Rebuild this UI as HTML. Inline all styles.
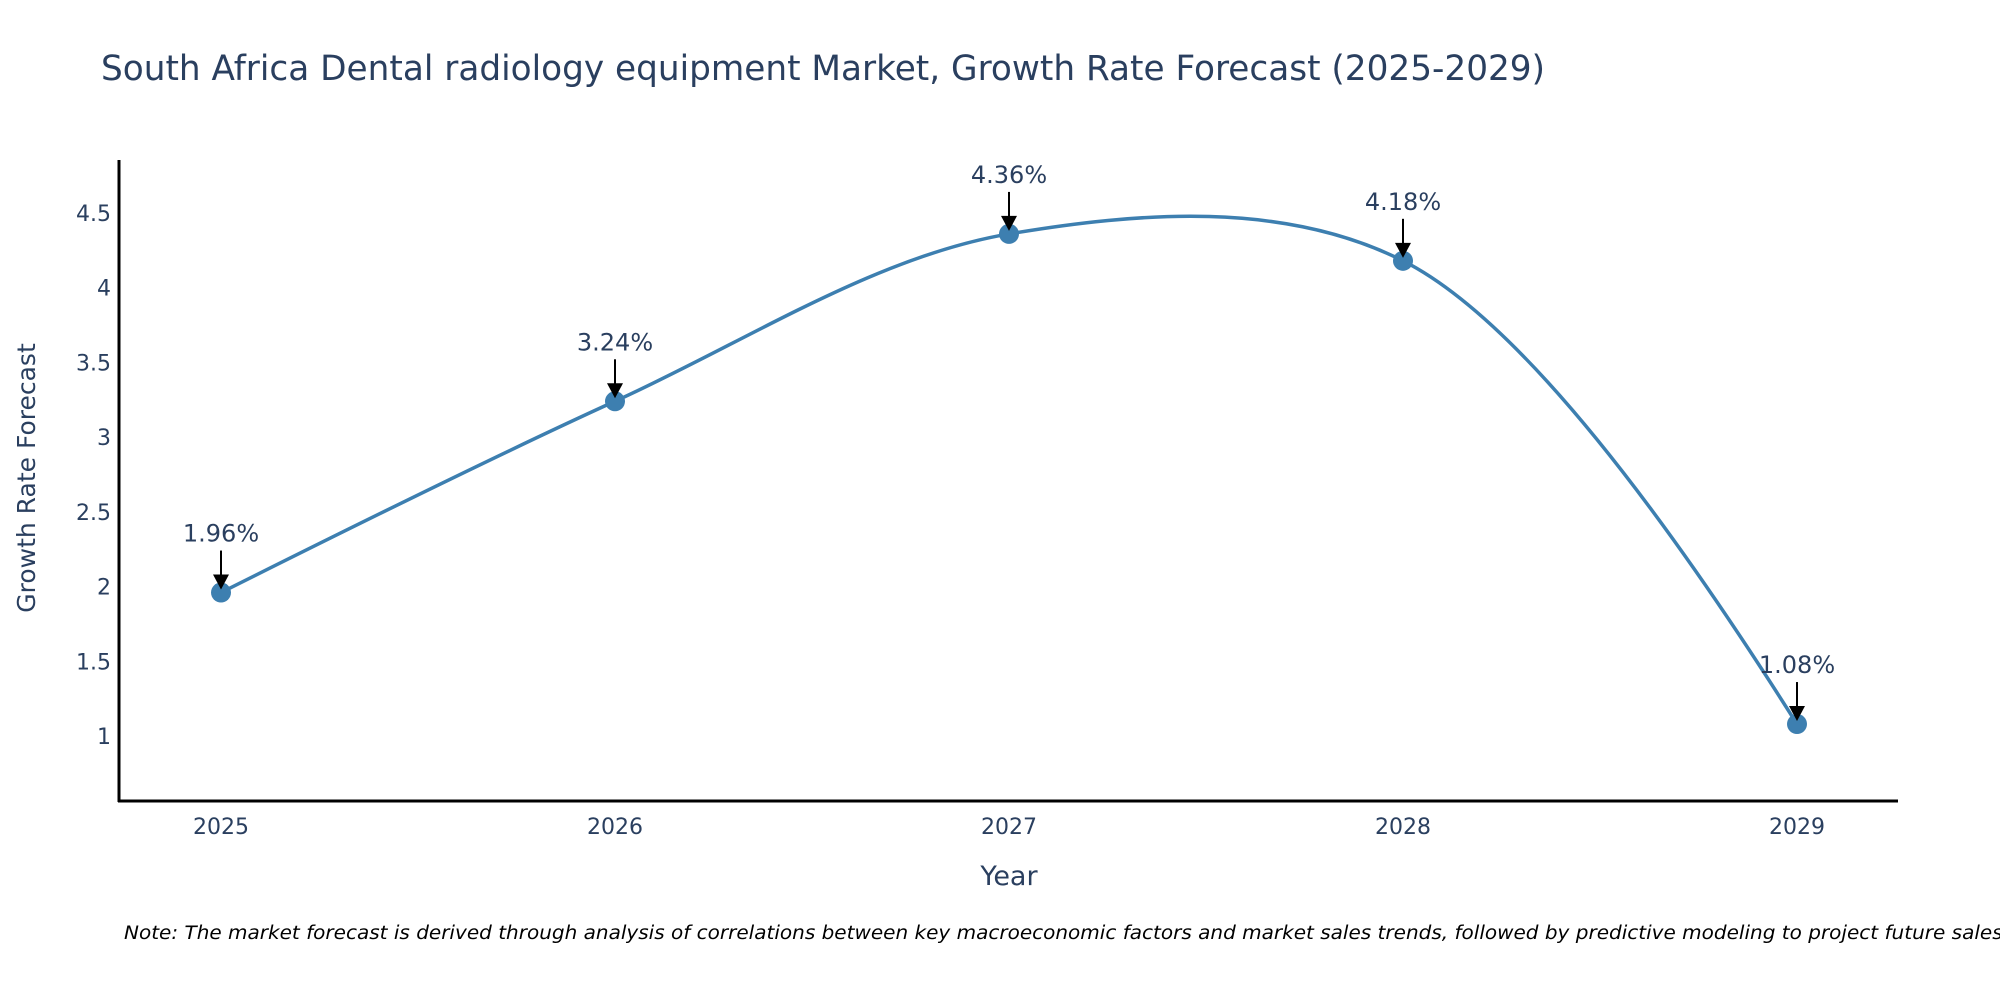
<!DOCTYPE html>
<html><head><meta charset="utf-8"><style>
html,body{margin:0;padding:0;background:#fff;overflow:hidden;}
svg{display:block;font-family:"DejaVu Sans","Liberation Sans",sans-serif;}
</style></head><body>
<svg id="chart" width="2000" height="1000" viewBox="0 0 2000 1000">
<text x="101" y="80" font-size="35" fill="#2a3f5f" textLength="1444" lengthAdjust="spacingAndGlyphs">South Africa Dental radiology equipment Market, Growth Rate Forecast (2025-2029)</text>
<g id="yticks"></g>
<g id="xticks"></g>
<line x1="119" y1="160" x2="119" y2="802" stroke="#000" stroke-width="3"/>
<line x1="118" y1="801" x2="1898" y2="801" stroke="#000" stroke-width="3"/>
<g id="series"></g>
<g id="annots"></g>
<text x="1009" y="885" font-size="27" fill="#2a3f5f" text-anchor="middle">Year</text>
<text transform="translate(35,478) rotate(-90)" font-size="25" fill="#2a3f5f" text-anchor="middle">Growth Rate Forecast</text>
<text x="124" y="939" font-size="18.5" font-style="italic" fill="#000" textLength="1885" lengthAdjust="spacingAndGlyphs">Note: The market forecast is derived through analysis of correlations between key macroeconomic factors and market sales trends, followed by predictive modeling to project future sales.</text>
</svg>
<script>
const years = [2025, 2026, 2027, 2028, 2029];
const growth = [1.96, 3.24, 4.36, 4.18, 1.08];
const labels = ["1.96%", "3.24%", "4.36%", "4.18%", "1.08%"];
const yTicks = [1, 1.5, 2, 2.5, 3, 3.5, 4, 4.5];
const yTickLabels = ["1", "1.5", "2", "2.5", "3", "3.5", "4", "4.5"];

const NS = "http://www.w3.org/2000/svg";
function xScale(v){ return 221 + (v - 2025) * 394; }
function yScale(v){ return 736 - (v - 1) * (523 / 3.5); }
function mk(tag, attrs, parent){ const e=document.createElementNS(NS,tag); for(const k in attrs) e.setAttribute(k,attrs[k]); parent.appendChild(e); return e; }

const yt=document.getElementById('yticks');
yTicks.forEach((t,i)=>{
  const el=mk('text',{x:111,y:yScale(t)+8,'font-size':22,fill:'#2a3f5f','text-anchor':'end'},yt);
  
  
  el.textContent=yTickLabels[i];
});
const xt=document.getElementById('xticks');
years.forEach(y=>{
  const el=mk('text',{x:xScale(y),y:834,'font-size':22,fill:'#2a3f5f','text-anchor':'middle'},xt);
  
  
  el.textContent=String(y);
});

const pts=years.map((y,i)=>[xScale(y),yScale(growth[i])]);
function tangent(p0,p1,p2,s){
  const d1x=p0[0]-p1[0],d1y=p0[1]-p1[1],d2x=p2[0]-p1[0],d2y=p2[1]-p1[1];
  const d1a=Math.pow(d1x*d1x+d1y*d1y,0.25),d2a=Math.pow(d2x*d2x+d2y*d2y,0.25);
  const nx=(d2a*d2a*d1x-d1a*d1a*d2x)*s,ny=(d2a*d2a*d1y-d1a*d1a*d2y)*s;
  const de1=3*d2a*(d1a+d2a),de2=3*d1a*(d1a+d2a);
  return [[p1[0]+nx/de1,p1[1]+ny/de1],[p1[0]-nx/de2,p1[1]-ny/de2]];
}
const tg=[];
for(let i=1;i<pts.length-1;i++) tg.push(tangent(pts[i-1],pts[i],pts[i+1],1));
let d='M'+pts[0]+'Q'+tg[0][0]+' '+pts[1];
for(let i=2;i<pts.length-1;i++) d+='C'+tg[i-2][1]+' '+tg[i-1][0]+' '+pts[i];
d+='Q'+tg[pts.length-3][1]+' '+pts[pts.length-1];
const series=document.getElementById('series');
const line=mk('path',{d:d,fill:'none',stroke:'#3d7fb0','stroke-width':3.5},series);


pts.forEach(p=>{
  const c=mk('circle',{cx:p[0],cy:p[1],r:10,fill:'#3d7fb0'},series);
  
  
});
const an=document.getElementById('annots');
pts.forEach((p,i)=>{
  const l=mk('line',{x1:p[0],y1:p[1]-42,x2:p[0],y2:p[1]-14,stroke:'#000','stroke-width':2},an);
  
  
  const h=mk('path',{d:`M${p[0]-8},${p[1]-18}L${p[0]+8},${p[1]-18}L${p[0]},${p[1]-3}Z`,fill:'#000'},an);
  
  
  const t=mk('text',{x:p[0],y:p[1]-51,'font-size':24,fill:'#2a3f5f','text-anchor':'middle'},an);
  
  
  t.textContent=labels[i];
});
</script>
</body></html>
